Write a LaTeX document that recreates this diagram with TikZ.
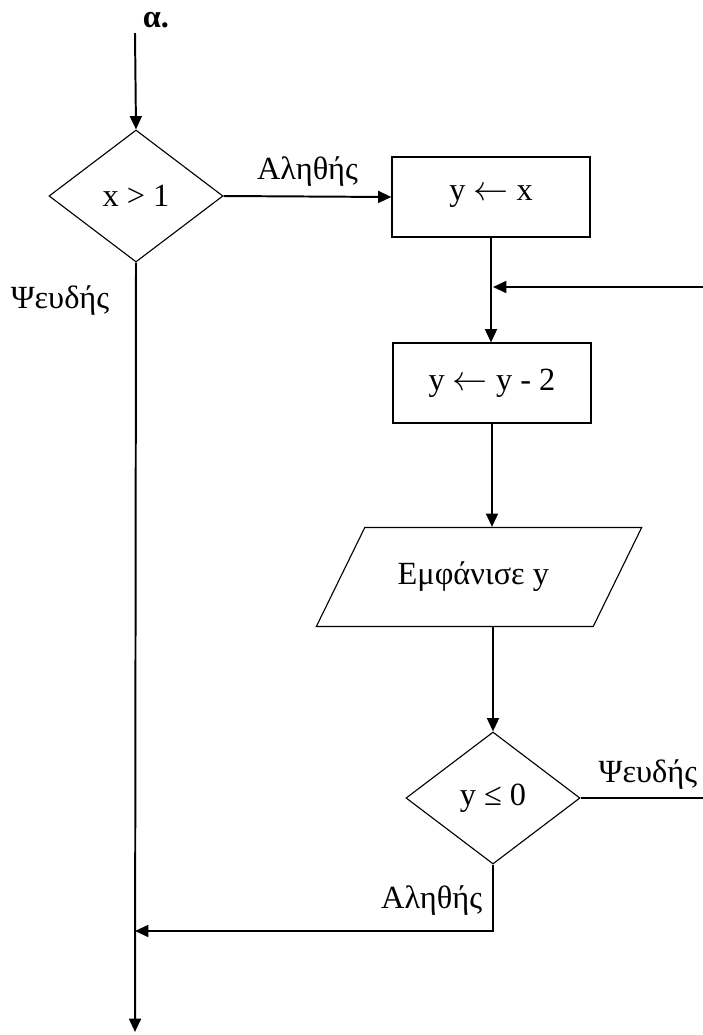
\documentclass[tikz,border=0pt]{standalone}
\usepackage{fontspec}
\setmainfont{Liberation Serif}
\usetikzlibrary{shapes.geometric,arrows.meta}

\begin{document}
\begin{tikzpicture}[x=0.025cm,y=-0.025cm,
  font=\fontsize{23}{27}\selectfont,
  decision/.style={diamond,draw,line width=0.8pt,inner sep=0pt,
    minimum width=4.35cm,minimum height=3.3cm},
  assign/.style={rectangle,draw,line width=0.8pt,
    minimum width=4.95cm,minimum height=2cm},
  io/.style={trapezium,draw,line width=0.8pt,trapezium stretches=true,
    trapezium left angle=51,trapezium right angle=129,
    minimum width=8.15cm,minimum height=2.475cm},
  arr/.style={-{Triangle[length=9.5pt,width=8.5pt]},line width=1.4pt},
  line/.style={line width=1.4pt}]

  \useasboundingbox (0,0) rectangle (703,1035);

  \node[font=\fontsize{23}{27}\selectfont\bfseries] (title) at (156,20) {α.};
  \coordinate (start) at (135,33);

  \node[decision] (test) at (136,196) {x > 1};
  \node[assign] (init) at (491,197) {y $\leftarrow$ x};
  \node[assign] (step) at (492,383) {y $\leftarrow$ y - 2};
  \node[io] (show) at (479,577) {\hspace*{-8pt}Εμφάνισε y};
  \node[decision] (check) at (493,798) {y ≤ 0};

  \coordinate (join) at (493,287);
  \coordinate (loopin) at (703,287);
  \coordinate (falseout) at (703,798);
  \coordinate (merge) at (135,931);
  \coordinate (stop) at (135,1032);

  \draw[arr] (start) -- (test.north);
  \draw[arr] (test.east) -- node[above=3pt] {Αληθής} (init.west);
  \draw[arr] (init.south) -- (init.south |- step.north);
  \draw[arr] (loopin) -- (join);
  \draw[arr] (step.south) -- (step.south |- show.north);
  \draw[arr] (show.south -| check.north) -- (check.north);
  \draw[line] (check.east) -- node[above=2pt,pos=0.55] {Ψευδής} (falseout);
  \draw[arr] (check.south) |- (merge);
  \draw[arr] (test.south) -- (stop);

  \node[anchor=east] (yes2) at (487,901) {Αληθής};
  \node (no1) at (60,301) {Ψευδής};
\end{tikzpicture}
\end{document}
